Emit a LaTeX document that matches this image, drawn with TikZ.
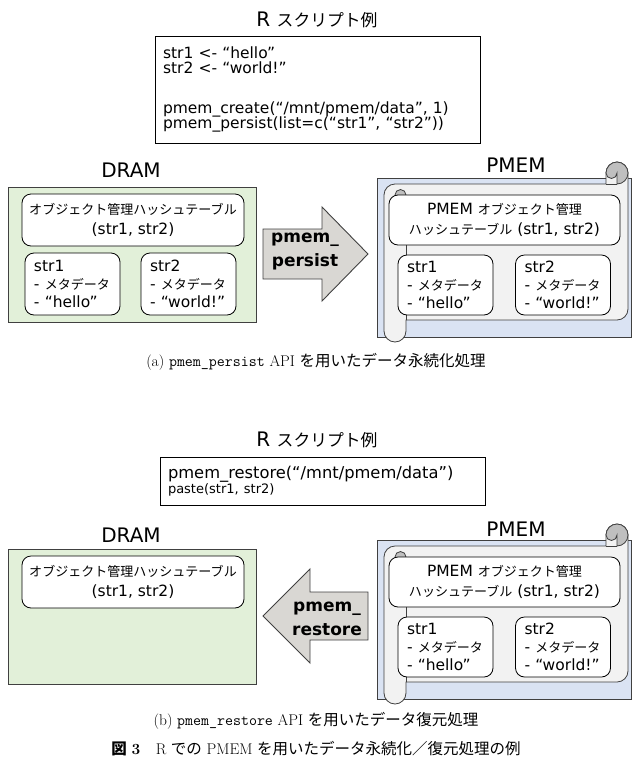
\documentclass[tikz,border=0pt]{standalone}
\usepackage{fontspec}
\newfontfamily\dv{DejaVu Sans}
\newfontfamily\jp[Scale=0.84]{Noto Sans CJK JP}
\newfontfamily\jpcap{Noto Sans CJK JP}
\definecolor{dramgreen}{HTML}{E2F0D9}
\definecolor{pmemblue}{HTML}{DAE3F3}
\definecolor{scrollgray}{HTML}{F2F2F2}
\definecolor{curlgray}{HTML}{BFBFBF}
\definecolor{arrowgray}{HTML}{D9D7D3}
\definecolor{edgegray}{HTML}{404040}

\tikzset{
  memtitle/.style={font=\dv\fontsize{20}{24}\selectfont, inner sep=0pt},
  codebox/.style={draw, line width=0.8pt, align=left, inner xsep=8pt, inner ysep=0pt, text width=309pt, font=\dv\fontsize{15.5}{15.5}\selectfont},
  dram/.style={draw=edgegray, fill=dramgreen, line width=0.9pt, minimum width=248pt, minimum height=135pt, inner sep=0pt},
  pmem/.style={draw=edgegray, fill=pmemblue, line width=0.9pt, minimum width=254pt, minimum height=159pt, inner sep=0pt},
  tablebox/.style={draw, fill=white, rounded corners=9pt, line width=0.8pt, align=center, inner sep=0pt, font=\dv\fontsize{15.5}{20}\selectfont},
  strbox/.style={draw, fill=white, rounded corners=9pt, line width=0.8pt, align=left, inner xsep=9pt, inner ysep=0pt, text width=77pt, minimum height=62pt, font=\dv\fontsize{15.5}{18}\selectfont},
  scrolledge/.style={draw=edgegray, line width=0.8pt},
  blockarrow/.style={draw=edgegray, fill=arrowgray, line width=0.9pt},
  arrowlabel/.style={font=\dv\bfseries\fontsize{17}{24}\selectfont, align=center, inner sep=0pt},
  capline/.style={font=\fontsize{15.5}{18}\selectfont, inner sep=0pt},
}

\newcommand{\pmemscroll}{%
  \draw[scrolledge, fill=scrollgray]
    (384,195) arc[start angle=180, end angle=90, radius=11pt]
    -- (606,184) -- (606,173) arc[start angle=180, end angle=0, radius=11pt]
    -- (628,309) arc[start angle=0, end angle=-90, radius=11pt]
    -- (406,320) -- (406,331) arc[start angle=0, end angle=-180, radius=11pt]
    -- cycle;
  \draw[scrolledge, fill=curlgray] (617,184) arc[start angle=-90, end angle=180, radius=11pt]
    arc[start angle=180, end angle=360, radius=5.5pt] -- cycle;
  \draw[scrolledge] (606,184) -- (617,184);
  \draw[scrolledge, fill=curlgray] (395,206) arc[start angle=-90, end angle=0, radius=11pt]
    arc[start angle=0, end angle=180, radius=5.5pt] -- cycle;
  \draw[scrolledge] (406,195) -- (406,320);
}

\begin{document}
\begin{tikzpicture}[x=1pt,y=-1pt]
\useasboundingbox (0,0) rectangle (632,772);

\node[memtitle] (scripttitleA) at (317,20) {R {\jp スクリプト例}};
\node[codebox, minimum height=107pt] (codeA) at (317.5,89.5) {str1 <- “hello”\\str2 <- “world!”\\[24pt]pmem\_create(“/mnt/pmem/data”, 1)\\pmem\_persist(list=c(“str1”, “str2”))};

\node[memtitle] (dramtitleA) at (131,170) {DRAM};
\node[dram] (dramA) at (132,254.5) {};
\node[tablebox, minimum width=222pt, minimum height=52pt] (tableA) at (133,220) {{\jp オブジェクト管理ハッシュテーブル}\\(str1, str2)};
\node[strbox] (str1A) at (72.5,284) {str1\\- {\jp メタデータ}\\- “hello”};
\node[strbox] (str2A) at (188.5,284) {str2\\- {\jp メタデータ}\\- “world!”};

\draw[blockarrow] (263,229) -- (322,229) -- (322,207) -- (368,254) -- (322,301) -- (322,279) -- (263,279) -- cycle;
\node[arrowlabel] (persistlabel) at (305,252) {pmem\_\\persist};

\node[memtitle] (pmemtitleA) at (516,165) {PMEM};
\node[pmem] (pmemA) at (504,257.5) {};
\pmemscroll
\node[tablebox, minimum width=231pt, minimum height=50pt] (ptableA) at (504.5,220) {PMEM {\jp オブジェクト管理}\\{\jp ハッシュテーブル} (str1, str2)};
\node[strbox, minimum height=60pt] (pstr1A) at (445.5,285) {str1\\- {\jp メタデータ}\\- “hello”};
\node[strbox, minimum height=60pt] (pstr2A) at (563,285) {str2\\- {\jp メタデータ}\\- “world!”};

\node[capline] (capA) at (316,362) {(a) \texttt{pmem\_persist} API {\jpcap を用いたデータ永続化処理}};

\node[memtitle] (scripttitleB) at (317,440) {R {\jp スクリプト例}};
\node[codebox, minimum height=48pt] (codeB) at (322.5,481) {{\fontsize{16.3}{17}\selectfont pmem\_restore(“/mnt/pmem/data”)}\\{\fontsize{13}{14}\selectfont paste(str1, str2)}};

\node[memtitle] (dramtitleB) at (131,535) {DRAM};
\node[dram] (dramB) at (132,616.5) {};
\node[tablebox, minimum width=222pt, minimum height=52pt] (tableB) at (133,582) {{\jp オブジェクト管理ハッシュテーブル}\\(str1, str2)};

\draw[blockarrow] (368,592) -- (310,592) -- (310,569) -- (263,616) -- (310,663) -- (310,640) -- (368,640) -- cycle;
\node[arrowlabel] (restorelabel) at (327,619) {pmem\_\\restore};

\node[memtitle] (pmemtitleB) at (516,529) {PMEM};
\node[pmem] (pmemB) at (504,619.5) {};
\begin{scope}[shift={(0,362)}]
\pmemscroll
\end{scope}
\node[tablebox, minimum width=231pt, minimum height=50pt] (ptableB) at (504.5,582) {PMEM {\jp オブジェクト管理}\\{\jp ハッシュテーブル} (str1, str2)};
\node[strbox, minimum height=60pt] (pstr1B) at (445.5,647) {str1\\- {\jp メタデータ}\\- “hello”};
\node[strbox, minimum height=60pt] (pstr2B) at (563,647) {str2\\- {\jp メタデータ}\\- “world!”};

\node[capline] (capB) at (316,721) {(b) \texttt{pmem\_restore} API {\jpcap を用いたデータ復元処理}};
\node[capline] (figcap) at (316,749) {{\jpcap\bfseries 図} \textbf{3}\quad R {\jpcap での} PMEM {\jpcap を用いたデータ永続化／復元処理の例}};
\end{tikzpicture}
\end{document}
